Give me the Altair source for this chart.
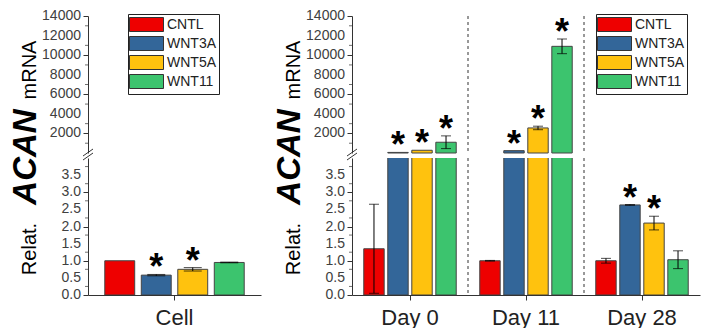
import altair as alt
import pandas as pd

series = ["CNTL", "WNT3A", "WNT5A", "WNT11"]
series_colors = ["#EE0000", "#336699", "#FFC20E", "#3CC46E"]

cell_groups = ["Cell"]
cell_vals = [1.0, 0.58, 0.75, 0.95]
cell_errs = [0.0, 0.02, 0.05, 0.01]
cell_stars = [0, 1, 1, 0]

days = ["Day 0", "Day 11", "Day 28"]
day0_vals = [1.35, 60, 280, 1100]
day0_errs = [1.3, 0, 0, 650]
day0_stars = [0, 1, 1, 1]
day11_vals = [1.0, 240, 2560, 10900]
day11_errs = [0.01, 0, 180, 750]
day11_stars = [0, 1, 1, 1]
day28_vals = [1.0, 2.63, 2.1, 1.03]
day28_errs = [0.07, 0.01, 0.2, 0.26]
day28_stars = [0, 1, 1, 0]

day_boundaries = ["Day 0", "Day 11"]

upper_major = [2000, 4000, 6000, 8000, 10000, 12000, 14000]
upper_minor = [1000, 3000, 5000, 7000, 9000, 11000, 13000]
lower_major = [0, 0.5, 1.0, 1.5, 2.0, 2.5, 3.0, 3.5]
lower_minor = [0.25, 0.75, 1.25, 1.75, 2.25, 2.75, 3.25, 3.75]

title_parts = ["Relat.", "ACAN", "mRNA"]

FONT = "Liberation Sans"
BREAK = 4


def rows(group, vals, errs, stars):
    out = []
    for s, v, e, st in zip(series, vals, errs, stars):
        out.append(dict(group=group, series=s, value=v, err=e, star=st,
                        lo=v - e, hi=v + e))
    return out


cell_df = pd.DataFrame(rows("Cell", cell_vals, cell_errs, cell_stars))
day_df = pd.DataFrame(rows("Day 0", day0_vals, day0_errs, day0_stars)
                      + rows("Day 11", day11_vals, day11_errs, day11_stars)
                      + rows("Day 28", day28_vals, day28_errs, day28_stars))


def y_axis(values):
    return alt.Axis(values=values, title=None, grid=False, labels=False,
                    tickSize=5, domainColor="#333", tickColor="#333")


def panel(df, groups, width, inner, outer, cap, legend_x, with_dash):
    xscale = alt.Scale(domain=groups, paddingInner=0, paddingOuter=0)
    xo = alt.XOffset("series:N", sort=series,
                     scale=alt.Scale(domain=series, paddingInner=inner, paddingOuter=outer))
    cscale = alt.Scale(domain=series, range=series_colors)

    def xe():
        return alt.X("group:N", sort=groups, scale=xscale)

    def build(yscale, bar_cond, cond, major, minor, fmt, legend, clip, xaxis):
        base = alt.Chart(df)
        bars = base.transform_filter(bar_cond).mark_bar(
            stroke="#444", strokeWidth=1, clip=clip).encode(
            x=alt.X("group:N", sort=groups, scale=xscale, axis=xaxis),
            xOffset=xo,
            y=alt.Y("value:Q", scale=yscale, axis=y_axis(major)),
            color=alt.Color("series:N", sort=series, scale=cscale, legend=legend),
        )
        err = base.transform_filter(f"({cond}) && datum.err > 0")
        rule = err.mark_rule(color="black", strokeWidth=1).encode(
            x=xe(), xOffset=xo, y=alt.Y("lo:Q", scale=yscale), y2="hi:Q")
        caplo = err.mark_tick(color="black", thickness=1, size=cap).encode(
            x=xe(), xOffset=xo, y=alt.Y("lo:Q", scale=yscale))
        caphi = err.mark_tick(color="black", thickness=1, size=cap).encode(
            x=xe(), xOffset=xo, y=alt.Y("hi:Q", scale=yscale))
        star = base.transform_filter(f"({cond}) && datum.star == 1").mark_text(
            text="*", fontSize=36, fontWeight="bold", baseline="alphabetic", dy=5,
            color="black", font=FONT).encode(
            x=xe(), xOffset=xo, y=alt.Y("hi:Q", scale=yscale))
        minor_ticks = alt.Chart(pd.DataFrame({"m": minor})).mark_tick(
            color="#333", thickness=1, size=3, orient="horizontal").encode(
            x=alt.value(-1.5), y=alt.Y("m:Q", scale=yscale))
        tick_labels = alt.Chart(pd.DataFrame({"m": major})).mark_text(
            align="right", baseline="middle", fontSize=14, font=FONT,
            color="#404040").encode(
            x=alt.value(-7), y=alt.Y("m:Q", scale=yscale),
            text=alt.Text("m:Q", format=fmt))
        layers = [bars, rule, caplo, caphi, star, minor_ticks, tick_labels]
        if with_dash:
            dash_df = pd.DataFrame({"group": day_boundaries})
            layers.append(alt.Chart(dash_df).mark_rule(
                strokeDash=[3, 3], color="#333", strokeWidth=1).encode(
                x=alt.X("group:N", sort=groups, scale=xscale, bandPosition=1)))
        return layers

    legend = alt.Legend(title=None, orient="none", legendX=legend_x, legendY=-2,
                        symbolType="M-2.43,-1H2.43V1H-2.43Z", symbolSize=196,
                        symbolStrokeColor="#333", symbolStrokeWidth=1,
                        symbolOpacity=1, symbolOffset=8,
                        labelFont=FONT, labelFontSize=14, labelColor="#222",
                        labelOffset=13, rowPadding=0, padding=3,
                        strokeColor="#222", fillColor="white")
    xaxis = alt.Axis(title=None, labelAngle=0, labelFontSize=22, labelFont=FONT,
                     labelColor="#222", tickSize=5, labelPadding=7,
                     domainColor="#333", tickColor="#333")

    yu = alt.Scale(domain=[0, 14000], nice=False, zero=True)
    yl = alt.Scale(domain=[0, BREAK], nice=False, zero=True)
    up_cond = f"datum.value > {BREAK}"
    lo_cond = f"datum.value <= {BREAK}"
    layers_u = build(yu, up_cond, up_cond, upper_major, upper_minor, "d",
                     legend, False, None)
    layers_l = build(yl, "datum.value >= 0", lo_cond, lower_major, lower_minor, ".1f",
                     None, True, xaxis)

    # axis break marks
    for y1, y2 in ((2, -5), (-2, -9)):
        layers_l.append(alt.Chart(alt.Data(values=[{"k": 1}])).mark_rule(
            color="#333", strokeWidth=1).encode(
            x=alt.value(-5), x2=alt.value(5), y=alt.value(y1), y2=alt.value(y2)))

    # axis title with mixed styles
    t_specs = [(title_parts[0], 20, "normal", "normal", 91),
               (title_parts[1], 33, "bold", "italic", -1),
               (title_parts[2], 20, "normal", "normal", -88)]
    for txt, fs, fw, fst, yy in t_specs:
        layers_l.append(
            alt.Chart(alt.Data(values=[{"t": txt}])).mark_text(
                angle=270, align="center", baseline="alphabetic", fontSize=fs,
                fontWeight=fw, fontStyle=fst, font=FONT, color="black").encode(
                x=alt.value(-52), y=alt.value(yy), text="t:N"))

    upper = alt.layer(*layers_u).properties(width=width, height=137)
    lower = alt.layer(*layers_l).properties(width=width, height=137)
    return alt.vconcat(upper, lower, spacing=5, bounds="flush").resolve_legend(
        color="independent").resolve_scale(color="independent")


left = panel(cell_df, cell_groups, 173, 0.18, 0.46, 18, 40, False)
right = panel(day_df, days, 348, 0.15, 0.49, 10, 244, True)

chart = alt.hconcat(left, right, spacing=13).resolve_scale(
    x="independent", y="independent", xOffset="independent", color="independent"
).resolve_legend(color="independent").properties(
    padding={"left": 2, "top": 1, "right": 5, "bottom": 0}
).configure(font=FONT).configure_view(stroke=None)

chart.save("out.html", embed_options={"renderer": "svg", "actions": False})
